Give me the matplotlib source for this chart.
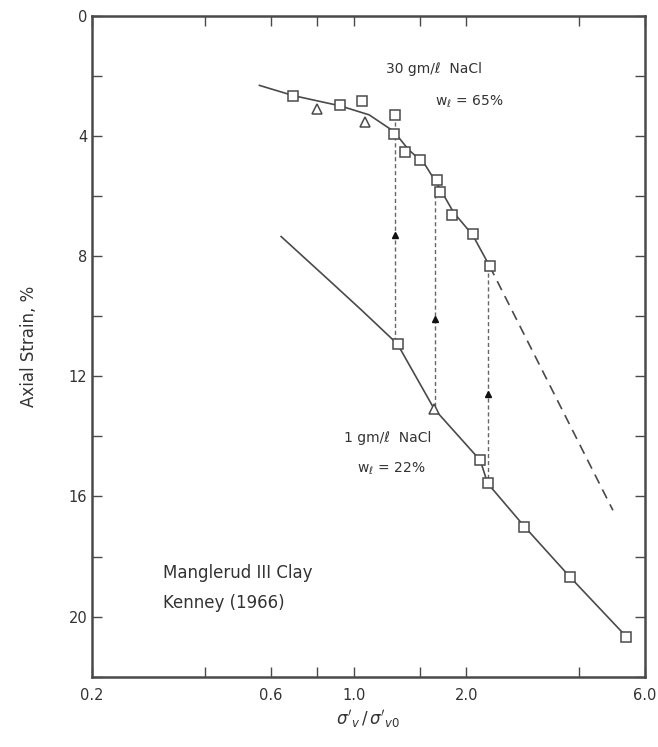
import numpy as np
import matplotlib
matplotlib.use("Agg")
import matplotlib.pyplot as plt

# ── data ─────────────────────────────────────────────────────────────────────
# upper curve: 30 gm/l NaCl, w_l = 65%
hi_sq_x = [0.69, 0.92, 1.05, 1.29, 1.28, 1.37, 1.50, 1.67, 1.70, 1.83, 2.08, 2.31]
hi_sq_y = [2.66, 2.97, 2.85, 3.31, 3.93, 4.54, 4.80, 5.46, 5.86, 6.62, 7.28, 8.34]
hi_tri_x = [0.80, 1.07]
hi_tri_y = [3.10, 3.54]
hi_line_x = [0.56, 0.69, 0.92, 1.10, 1.28, 1.40, 1.55, 1.70, 1.85, 2.08, 2.31]
hi_line_y = [2.32, 2.66, 3.00, 3.30, 3.85, 4.45, 4.95, 5.75, 6.55, 7.30, 8.34]
hi_dash_x = [2.31, 4.93]
hi_dash_y = [8.34, 16.46]

# lower curve: 1 gm/l NaCl, w_l = 22%
lo_sq_x = [1.31, 2.18, 2.28, 2.86, 3.78, 5.35]
lo_sq_y = [10.93, 14.80, 15.56, 17.00, 18.67, 20.66]
lo_tri_x = [1.64]
lo_tri_y = [13.08]
lo_line_x = [0.64, 0.85, 1.05, 1.31, 1.64, 2.18, 2.28, 2.86, 3.78, 5.35]
lo_line_y = [7.35, 8.75, 9.80, 10.93, 13.08, 14.80, 15.56, 17.00, 18.67, 20.66]

# vertical connectors (x, y_top, y_bottom, arrow y)
conn_x = [1.29, 1.65, 2.29]
conn_top = [3.31, 5.46, 8.34]
conn_bot = [10.93, 13.08, 15.56]
conn_arrow = [7.3, 10.1, 12.6]

xticks = [0.2, 0.4, 0.6, 0.8, 1.0, 1.5, 2.0, 4.0, 6.0]
xticklabels = ["0.2", "", "0.6", "", "1.0", "", "2.0", "", "6.0"]
yticks = list(range(0, 23, 2))
yticklabels = [str(v) if v % 4 == 0 and v <= 20 else "" for v in yticks]

INK = "#4a4a4a"
TXT = "#333333"

fig = plt.figure(figsize=(6.58, 7.47), dpi=100)
ax = fig.add_axes([0.140, 0.094, 0.840, 0.885])

ax.set_xscale("log")
ax.set_xlim(0.2, 6.0)
ax.set_ylim(22, 0)

# curves
ax.plot(hi_line_x, hi_line_y, color=INK, lw=1.2)
ax.plot(hi_dash_x, hi_dash_y, color=INK, lw=1.2, ls=(0, (6, 4)))
ax.plot(lo_line_x, lo_line_y, color=INK, lw=1.2)

# vertical dashed connectors with arrowheads
for x, yt, yb, ya in zip(conn_x, conn_top, conn_bot, conn_arrow):
    ax.plot([x, x], [yt, yb], color="#666666", lw=1.0, ls=(0, (3, 2)))
    ax.plot([x], [ya], marker="^", ms=4.5, color="#111111", mec="#111111")

# markers
mk = dict(ls="none", mfc="white", mec=INK, mew=1.1, zorder=3)
ax.plot(hi_sq_x, hi_sq_y, marker="s", ms=6.5, **mk)
ax.plot(hi_tri_x, hi_tri_y, marker="^", ms=6.5, **mk)
ax.plot(lo_sq_x, lo_sq_y, marker="s", ms=6.5, **mk)
ax.plot(lo_tri_x, lo_tri_y, marker="^", ms=6.5, **mk)

# annotations
ax.text(1.22, 1.9, "30 gm/ℓ  NaCl", fontsize=10, color=TXT)
ax.text(1.65, 3.0, r"w$_\ell$ = 65%", fontsize=10, color=TXT)
ax.text(0.94, 14.2, "1 gm/ℓ  NaCl", fontsize=10, color=TXT)
ax.text(1.02, 15.2, r"w$_\ell$ = 22%", fontsize=10, color=TXT)
ax.text(0.31, 18.7, "Manglerud III Clay", fontsize=12, color=TXT)
ax.text(0.31, 19.7, "Kenney (1966)", fontsize=12, color=TXT)

# axes styling
ax.set_xticks(xticks)
ax.set_xticklabels(xticklabels)
ax.xaxis.set_minor_locator(matplotlib.ticker.NullLocator())
ax.set_yticks(yticks)
ax.set_yticklabels(yticklabels)
ax.tick_params(axis="both", which="major", direction="in", length=7, width=1.0,
               color=INK, labelcolor=TXT, labelsize=10.5,
               top=True, right=True)
ax.tick_params(axis="x", pad=8)
for s in ax.spines.values():
    s.set_color(INK)
    s.set_linewidth(1.8)

ax.set_ylabel("Axial Strain, %", fontsize=12, color=TXT, labelpad=22)
ax.set_xlabel(r"$\sigma'_v\,/\,\sigma'_{v0}$", fontsize=12, color=TXT, labelpad=4)

fig.savefig("out.png", dpi=100)
